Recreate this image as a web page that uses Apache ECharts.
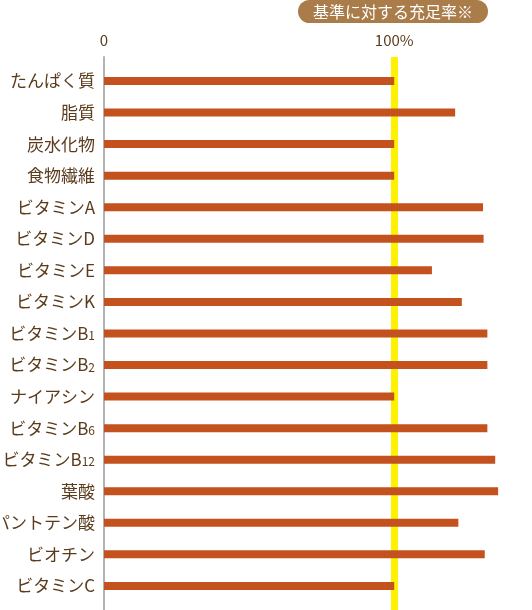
<!DOCTYPE html>
<html>
<head>
<meta charset="utf-8">
<script src="https://cdn.jsdelivr.net/npm/echarts@6/dist/echarts.min.js"></script>
<style>
  html, body { margin: 0; padding: 0; background: #fff; }
  #chart { width: 532px; height: 610px; }
</style>
</head>
<body>
<div id="chart"></div>
<script>
    const nutrients = ['たんぱく質', '脂質', '炭水化物', '食物繊維', 'ビタミンA', 'ビタミンD', 'ビタミンE', 'ビタミンK',
      'ビタミンB{s|1}', 'ビタミンB{s|2}', 'ナイアシン', 'ビタミンB{s|6}', 'ビタミンB{s|12}', '葉酸', 'パントテン酸', 'ビオチン', 'ビタミンC'];
    const fulfillment = [100, 121, 100, 100, 130.6, 130.8, 113, 123.3, 132.1, 132.1, 100, 132.1, 134.8, 135.8, 122.1, 131.2, 100];
    const baseline = 100;

    const textColor = '#5a3b1c';
    const font = '"Noto Sans CJK JP", sans-serif';

    const chart = echarts.init(document.getElementById('chart'));

    chart.setOption({
      animation: false,
      title: {
        text: '基準に対する充足率※',
        left: 298,
        top: 0,
        padding: [4, 15, 3, 15],
        backgroundColor: '#a97c4a',
        borderRadius: 12,
        textStyle: { color: '#fff', fontSize: 16, fontWeight: 'normal', fontFamily: font }
      },
      grid: [
        { left: 104, right: 21.7, top: 65.2, height: 536.5, outerBoundsMode: 'none', containLabel: false },
        { left: 104, right: 21.7, top: 57, bottom: 0, outerBoundsMode: 'none', containLabel: false }
      ],
      xAxis: [
        { gridIndex: 0, type: 'value', min: 0, max: 140, show: false },
        {
          gridIndex: 1,
          type: 'value',
          min: 0,
          max: 140,
          interval: 100,
          position: 'top',
          axisLine: { show: false },
          axisTick: { show: false },
          splitLine: { show: false },
          axisLabel: {
            margin: 9,
            color: textColor,
            fontSize: 15,
            fontFamily: font,
            formatter: v => v === 0 ? '0' : (v === 100 ? '100%' : '')
          }
        }
      ],
      yAxis: [
        {
          gridIndex: 0,
          type: 'category',
          inverse: true,
          data: nutrients,
          axisLine: { show: false },
          axisTick: { show: false },
          axisLabel: {
            margin: 9,
            color: textColor,
            fontSize: 17,
            fontFamily: font,
            rich: { s: { fontSize: 12, color: textColor, fontFamily: font, padding: [4, 0, 0, 0] } }
          }
        },
        {
          gridIndex: 1,
          type: 'value',
          min: 0,
          max: 1,
          axisLine: { show: true, lineStyle: { color: '#b3b3b3', width: 2 } },
          axisTick: { show: false },
          axisLabel: { show: false },
          splitLine: { show: false }
        }
      ],
      series: [
        {
          type: 'line',
          xAxisIndex: 1,
          yAxisIndex: 1,
          data: [],
          z: 1,
          markLine: {
            silent: true,
            z: 1,
            symbol: 'none',
            label: { show: false },
            lineStyle: { color: '#fff200', width: 7, type: 'solid' },
            data: [{ xAxis: baseline }]
          }
        },
        {
          type: 'bar',
          xAxisIndex: 0,
          yAxisIndex: 0,
          data: fulfillment,
          barWidth: 8,
          z: 6,
          itemStyle: { color: '#c4521f' }
        }
      ]
    });
</script>
</body>
</html>
